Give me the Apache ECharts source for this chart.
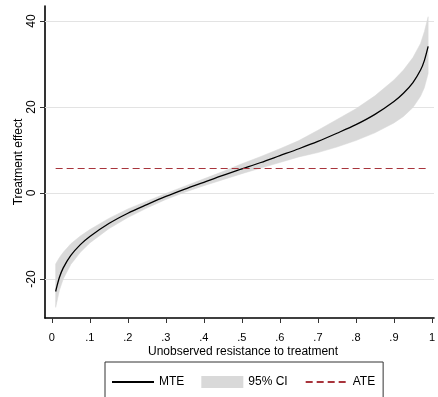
<!DOCTYPE html>
<html>
<head>
<meta charset="utf-8">
<script src="https://cdn.jsdelivr.net/npm/echarts@6/dist/echarts.min.js"></script>
<style>
    html, body { margin: 0; padding: 0; background: #fff; }
    #main { width: 438px; height: 397px; }
</style>
</head>
<body>
<div id="main"></div>
<script>
    // unobserved resistance u and the estimated curve
    var u     = [0.01, 0.02, 0.03, 0.05, 0.075, 0.10, 0.15, 0.20, 0.25, 0.30, 0.35, 0.40, 0.45, 0.50,
                 0.55, 0.60, 0.65, 0.70, 0.75, 0.80, 0.85, 0.90, 0.925, 0.95, 0.97, 0.98, 0.99];
    var mte   = [-22.9, -19.6, -17.4, -14.5, -12.0, -10.1, -7.1, -4.7, -2.7, -0.8, 0.9, 2.5, 4.1, 5.6,
                 7.1, 8.7, 10.3, 12.0, 13.9, 15.9, 18.3, 21.3, 23.2, 25.7, 28.6, 30.8, 34.1];
    var ciLow = [-26.6, -22.6, -20.0, -16.6, -13.8, -11.6, -8.3, -5.7, -3.5, -1.5, 0.2, 1.7, 3.1, 4.5,
                 5.8, 7.1, 8.4, 9.4, 10.7, 12.2, 14.0, 16.3, 17.8, 19.9, 22.5, 24.5, 27.8];
    var ciHigh = [-16.5, -15.0, -13.8, -11.8, -10.0, -8.5, -5.9, -3.7, -1.9, -0.1, 1.6, 3.3, 5.0, 6.8,
                 8.5, 10.3, 12.2, 14.6, 17.1, 19.6, 22.6, 26.3, 28.6, 31.5, 34.8, 37.5, 41.0];
    var ate = 5.7;
    var ateRange = [0.01, 0.99];
    var xTicks = [0, 0.1, 0.2, 0.3, 0.4, 0.5, 0.6, 0.7, 0.8, 0.9, 1];
    var yTicks = [-20, 0, 20, 40];

    var font = "'Liberation Sans Narrow', 'Liberation Sans', Arial, sans-serif";

    var chartDom = document.getElementById('main');
    var myChart = echarts.init(chartDom);

    var bandData = u.map(function (x, i) { return [x, ciLow[i], ciHigh[i]]; });
    var mteData = u.map(function (x, i) { return [x, mte[i]]; });

    // whole band as one polygon: upper edge left->right, lower edge back
    function renderBand(params, api) {
        if (params.dataIndexInside !== 0) return;
        var n = params.dataInsideLength;
        var top = [], bottom = [];
        for (var i = 0; i < n; i++) {
            var x = api.value(0, i);
            top.push(api.coord([x, api.value(2, i)]));
            bottom.unshift(api.coord([x, api.value(1, i)]));
        }
        return {
            type: 'polygon',
            shape: { points: top.concat(bottom) },
            style: { fill: '#d9d9d9', stroke: '#d9d9d9', lineWidth: 0.5 }
        };
    }

    var option = {
        animation: false,
        backgroundColor: '#fff',
        textStyle: { fontFamily: font },
        grid: {
            left: 45,
            top: 6,
            right: 0,
            height: 312
        },
        legend: {
            left: 105,
            top: 362,
            padding: [14, 8, 14, 6],
            borderColor: '#333',
            borderWidth: 1,
            itemWidth: 42,
            itemHeight: 12,
            itemGap: 17,
            textStyle: { fontSize: 12, color: '#000', fontFamily: font },
            data: [
                { name: 'MTE', itemStyle: { opacity: 0 } },
                { name: '95% CI', icon: 'rect' },
                { name: 'ATE', itemStyle: { opacity: 0 } }
            ]
        },
        xAxis: {
            type: 'value',
            min: -0.018,
            max: 1.0055,
            name: 'Unobserved resistance to treatment',
            nameLocation: 'middle',
            nameGap: 28,
            nameMoveOverlap: false,
            nameTextStyle: { fontSize: 12, color: '#000', fontFamily: font, padding: [0, 0, 0, 7] },
            axisLine: { show: true, onZero: false, lineStyle: { color: '#000', width: 1.6 } },
            axisTick: { show: true, length: 5, customValues: xTicks, lineStyle: { color: '#333' } },
            axisLabel: {
                customValues: xTicks,
                margin: 14,
                fontSize: 11,
                color: '#000',
                fontFamily: font,
                formatter: function (v) {
                    if (v === 0) return '0';
                    if (v === 1) return '1';
                    return '.' + Math.round(v * 10);
                }
            },
            splitLine: { show: false }
        },
        yAxis: {
            type: 'value',
            min: -29.07,
            max: 43.5,
            name: 'Treatment effect',
            nameLocation: 'middle',
            nameGap: 20,
            nameMoveOverlap: false,
            nameTextStyle: { fontSize: 12, color: '#000', fontFamily: font },
            axisLine: { show: true, onZero: false, lineStyle: { color: '#000', width: 1.6 } },
            axisTick: { show: true, length: 5, customValues: yTicks, lineStyle: { color: '#333' } },
            axisLabel: {
                customValues: yTicks,
                rotate: 90,
                margin: 7,
                fontSize: 12,
                color: '#000',
                fontFamily: font
            },
            splitLine: { show: false }
        },
        series: [
            {
                name: '95% CI',
                type: 'custom',
                data: bandData,
                encode: { x: 0, y: [1, 2] },
                renderItem: renderBand,
                itemStyle: { color: '#d9d9d9' },
                silent: true,
                markLine: {
                    silent: true,
                    symbol: 'none',
                    label: { show: false },
                    lineStyle: { color: '#e3e3e3', width: 1, type: 'solid' },
                    z: 1,
                    data: yTicks.map(function (v) { return { yAxis: v }; })
                }
            },
            {
                name: 'MTE',
                type: 'line',
                data: mteData,
                smooth: 0.3,
                symbol: 'none',
                color: '#000',
                lineStyle: { color: '#000', width: 1.3 }
            },
            {
                name: 'ATE',
                type: 'line',
                data: ateRange.map(function (x) { return [x, ate]; }),
                symbol: 'none',
                color: '#a8343c',
                lineStyle: { color: '#a8343c', width: 1.2, type: [7, 4] }
            }
        ]
    };

    option && myChart.setOption(option);
</script>
</body>
</html>
